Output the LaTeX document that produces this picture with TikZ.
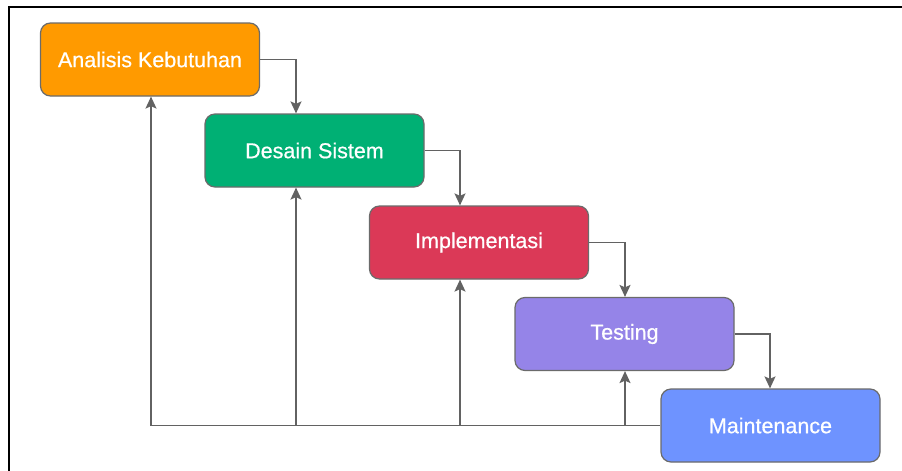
\documentclass[tikz,border=0pt]{standalone}
\usepackage{fontspec}
\setmainfont{Liberation Sans}
\newfontfamily\boxfont[FakeBold=0.6]{Liberation Sans}
\usetikzlibrary{arrows.meta,calc}
\definecolor{cOrange}{HTML}{FF9A00}
\definecolor{cGreen}{HTML}{00B074}
\definecolor{cRed}{HTML}{DB3957}
\definecolor{cPurple}{HTML}{9584E8}
\definecolor{cBlue}{HTML}{6E93FF}
\definecolor{cEdge}{HTML}{6B6B6B}
\definecolor{cLine}{HTML}{626262}
\tikzset{
  stepbox/.style={draw=cEdge, line width=1.2pt, rounded corners=10pt,
    minimum width=219pt, minimum height=73pt, inner sep=0pt,
    text=white, font=\boxfont\fontsize{21.5}{24}\selectfont},
  conn/.style={draw=cLine, line width=1.6pt},
  arr/.style={conn, -{Stealth[length=12pt,width=11pt,inset=2.5pt]}}
}
\begin{document}
\begin{tikzpicture}[x=1pt,y=-1pt]
\useasboundingbox (0,0) rectangle (902,471);
\fill[white] (0,0) rectangle (902,471);
\draw[line width=2.6pt,black] (9,475) -- (9,7) -- (905,7);

\node[stepbox, fill=cOrange] (A) at (150,59.5) {Analisis Kebutuhan};
\node[stepbox, fill=cGreen]  (D) at (314.5,150.5) {Desain Sistem};
\node[stepbox, fill=cRed]    (I) at (479,242.5) {Implementasi};
\node[stepbox, fill=cPurple] (T) at (624.5,334) {Testing};
\node[stepbox, fill=cBlue]   (M) at (770.5,425.5) {Maintenance};

\coordinate (c1) at (151,0);
\coordinate (c2) at (296,0);
\coordinate (c3) at (460,0);
\coordinate (c4) at (625,0);
\coordinate (c5) at (770,0);

% forward flow
\draw[arr] (A.east) -| (D.north -| c2);
\draw[arr] (D.east) -| (I.north -| c3);
\draw[arr] (I.east) -| (T.north -| c4);
\draw[arr] (T.east) -| (M.north -| c5);

% feedback
\coordinate (fb) at (M.west -| c1);
\draw[conn] (M.west) -- (fb);
\draw[arr] (fb) -- (A.south -| c1);
\draw[arr] (M.west -| c2) -- (D.south -| c2);
\draw[arr] (M.west -| c3) -- (I.south -| c3);
\draw[arr] (M.west -| c4) -- (T.south -| c4);
\end{tikzpicture}
\end{document}
